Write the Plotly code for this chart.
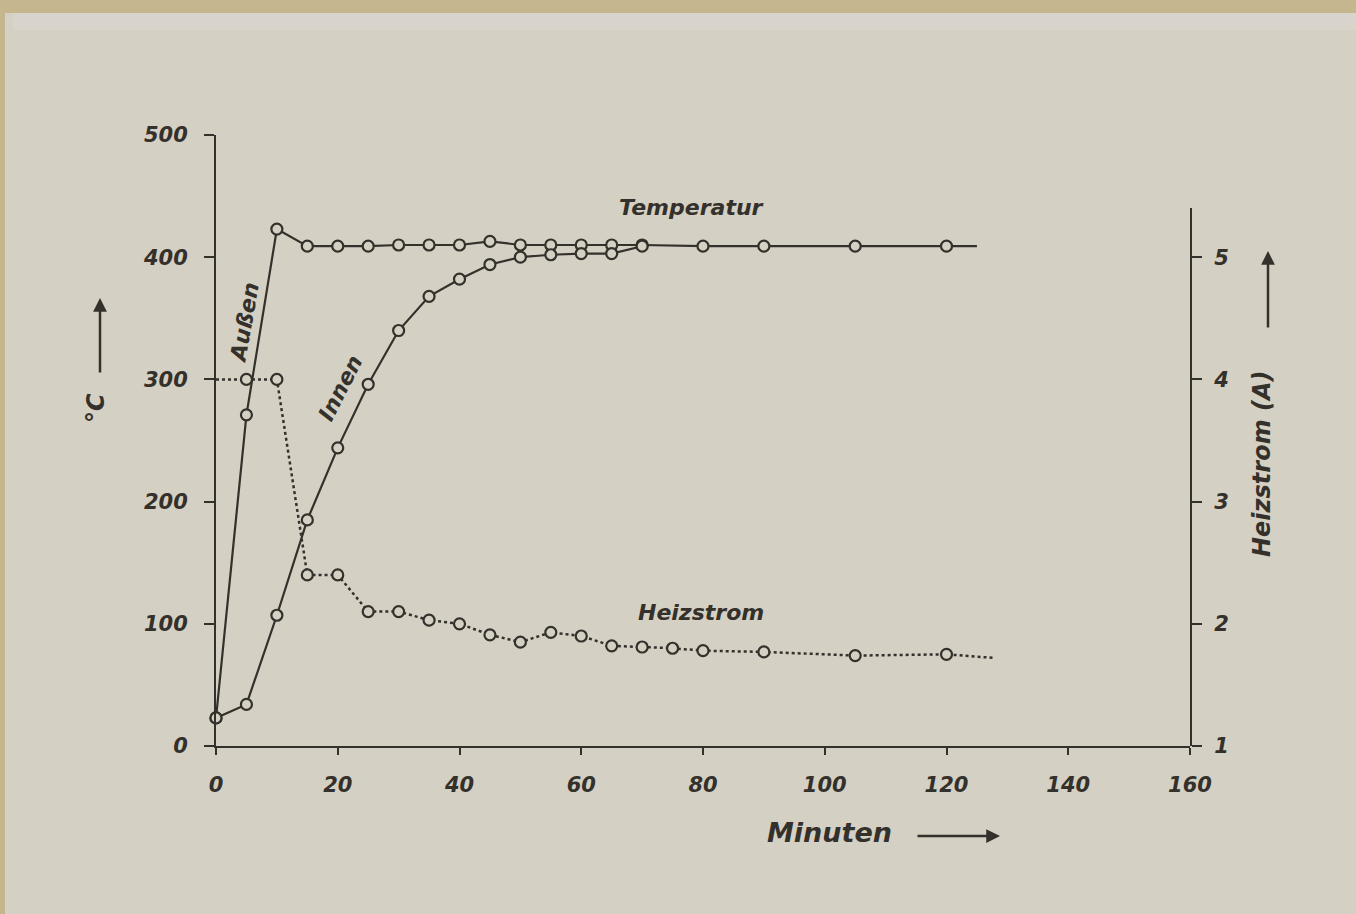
import plotly.graph_objects as go

# ---------------- data ----------------
t_aussen = [0, 5, 10, 15, 20, 25, 30, 35, 40, 45, 50, 55, 60, 65, 70, 80, 90, 105, 120, 125]
temp_aussen = [23, 271, 423, 409, 409, 409, 410, 410, 410, 413, 410, 410, 410, 410, 410, 409, 409, 409, 409, 409]

t_innen = [0, 5, 10, 15, 20, 25, 30, 35, 40, 45, 50, 55, 60, 65, 70]
temp_innen = [23, 34, 107, 185, 244, 296, 340, 368, 382, 394, 400, 402, 403, 403, 409]

t_strom = [0, 5, 10, 15, 20, 25, 30, 35, 40, 45, 50, 55, 60, 65, 70, 75, 80, 90, 105, 120, 128]
heizstrom = [4.0, 4.0, 4.0, 2.40, 2.40, 2.10, 2.10, 2.03, 2.00, 1.91, 1.85, 1.93, 1.90,
             1.82, 1.81, 1.80, 1.78, 1.77, 1.74, 1.75, 1.72]

x_ticks = [0, 20, 40, 60, 80, 100, 120, 140, 160]
y_ticks = [0, 100, 200, 300, 400, 500]
y2_ticks = [1, 2, 3, 4, 5]

# ---------------- style ----------------
BG = "#d5d0c4"
INK = "#34302b"
FONT = dict(family="DejaVu Sans", size=21, color=INK, weight="bold", style="italic")
MS = 11

W, H = 1356, 914
ML, MR, MT, MB = 216, 166, 135, 168
PW, PH = W - ML - MR, H - MT - MB


def px(x):
    return (x - ML) / PW


def py(y):
    return (H - MB - y) / PH


def sizes(n, hide):
    return [0 if i in hide else MS for i in range(n)]


fig = go.Figure()

fig.add_trace(go.Scatter(
    x=t_aussen, y=temp_aussen, mode="lines+markers", name="Außen",
    line=dict(color=INK, width=2.2),
    marker=dict(symbol="circle", size=sizes(len(t_aussen), {len(t_aussen) - 1}),
                color=BG, opacity=1, line=dict(color=INK, width=2.2)),
    cliponaxis=False, showlegend=False))

fig.add_trace(go.Scatter(
    x=t_innen, y=temp_innen, mode="lines+markers", name="Innen",
    line=dict(color=INK, width=2.2),
    marker=dict(symbol="circle", size=MS, color=BG, opacity=1,
                line=dict(color=INK, width=2.2)),
    cliponaxis=False, showlegend=False))

fig.add_trace(go.Scatter(
    x=t_strom, y=heizstrom, mode="lines+markers", name="Heizstrom", yaxis="y2",
    line=dict(color=INK, width=2.5, dash="dot"),
    marker=dict(symbol="circle", size=sizes(len(t_strom), {0, len(t_strom) - 1}),
                color=BG, opacity=1, line=dict(color=INK, width=2.2)),
    cliponaxis=False, showlegend=False))

axis_common = dict(showgrid=False, zeroline=False, showline=True, linecolor=INK,
                   linewidth=2, ticks="outside", tickcolor=INK, tickwidth=2,
                   tickfont=FONT)

fig.update_layout(
    width=W, height=H, autosize=False,
    margin=dict(l=ML, r=MR, t=MT, b=MB, pad=0),
    paper_bgcolor=BG, plot_bgcolor="rgba(0,0,0,0)",
    font=FONT,
    xaxis=dict(range=[0, 160], tickvals=x_ticks, ticklen=7,
               ticklabelstandoff=12, **axis_common),
    yaxis=dict(range=[0, 500], tickvals=y_ticks, ticklen=10,
               ticklabelstandoff=12, **axis_common),
    yaxis2=dict(range=[1, 5.4], domain=[0, 0.88], tickvals=y2_ticks, ticklen=10,
                anchor="x", side="right", ticklabelstandoff=8, **axis_common),
)

ann_font = dict(family="DejaVu Sans", size=22, color=INK, weight="bold", style="italic")


def label(text, x, y, angle=0, size=22):
    return dict(text=text, x=px(x), y=py(y), xref="paper", yref="paper",
                xanchor="center", yanchor="middle", showarrow=False,
                font=dict(ann_font, size=size), textangle=angle)


def arrow(x, y, ax, ay):
    return dict(text="", x=px(x), y=py(y), xref="paper", yref="paper",
                showarrow=True, ax=ax, ay=ay, arrowhead=2, arrowsize=1.1,
                arrowwidth=2.5, arrowcolor=INK)


annotations = [
    label("Temperatur", 691, 207),
    label("Heizstrom", 701, 612),
    label("Außen", 244, 323, -80),
    label("Innen", 340, 388, -63),
    label("°C", 96, 408, -90, 24),
    label("Heizstrom (A)", 1262, 464, -90, 24),
    label("Minuten", 829, 832, 0, 27),
    arrow(100, 298, 0, 76),
    arrow(1268, 251, 0, 78),
    arrow(1000, 836, -84, 0),
]
fig.update_layout(annotations=annotations)

# photo border strips
fig.update_layout(shapes=[
    dict(type="rect", xref="paper", yref="paper", x0=px(0), x1=px(W), y0=py(13), y1=py(0),
         fillcolor="#c6b68d", line=dict(width=0), layer="below"),
    dict(type="rect", xref="paper", yref="paper", x0=px(0), x1=px(5), y0=py(H), y1=py(0),
         fillcolor="#c6b68d", line=dict(width=0), layer="below"),
    dict(type="rect", xref="paper", yref="paper", x0=px(13), x1=px(W), y0=py(30), y1=py(13),
         fillcolor="#d8d4cb", line=dict(width=0), layer="below"),
])

fig.write_html("out.html")
